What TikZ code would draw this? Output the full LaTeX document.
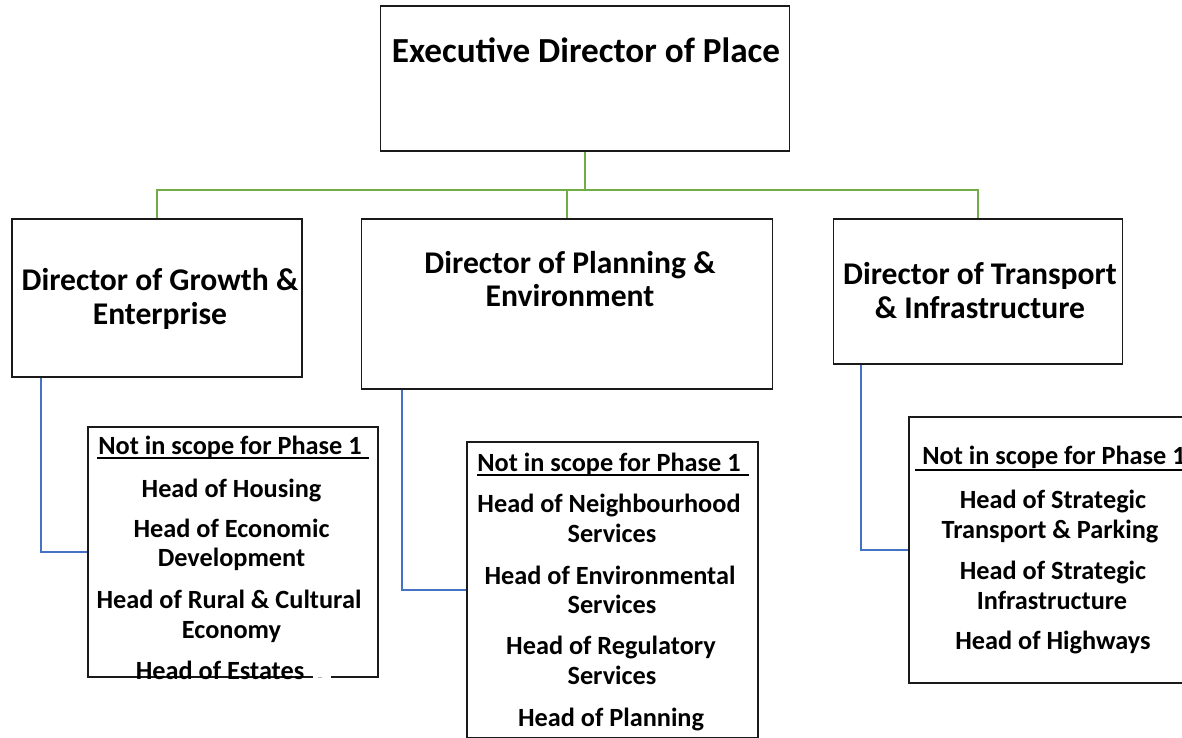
\documentclass[tikz,border=0pt]{standalone}
\usepackage{fontspec}
\setmainfont{Carlito}
\definecolor{lgreen}{HTML}{70AD47}
\definecolor{lblue}{HTML}{4472C4}
\definecolor{boxline}{HTML}{1A1A1A}
\tikzset{
  box/.style={draw=boxline, line width=1.6pt, fill=white, inner sep=0pt},
  gline/.style={draw=lgreen, line width=1.8pt},
  bline/.style={draw=lblue, line width=1.5pt},
  titletxt/.style={anchor=base, inner sep=0pt, font=\fontsize{35.2}{40}\selectfont\bfseries},
  dirtxt/.style={anchor=base, inner sep=0pt, font=\fontsize{31.6}{36}\selectfont\bfseries},
  itemtxt/.style={anchor=base, inner sep=0pt, font=\fontsize{26.3}{30}\selectfont\bfseries},
  uline/.style={draw=black, line width=1.5pt},
}
\begin{document}
\begin{tikzpicture}[x=1pt,y=-1pt]
\useasboundingbox (0,0) rectangle (1182,737);
\clip (0,0) rectangle (1182,737);
% boxes
\node[box, minimum width=409pt, minimum height=145pt] (exec) at (585,78.5) {};
\node[box, minimum width=290pt, minimum height=158pt] (dge) at (157,298) {};
\node[box, minimum width=411pt, minimum height=170pt] (dpe) at (567,304) {};
\node[box, minimum width=289pt, minimum height=145pt] (dte) at (978,291.5) {};
\node[box, minimum width=290pt, minimum height=250pt] (nis1) at (233,552) {};
\node[box, minimum width=291pt, minimum height=296pt] (nis2) at (612.5,590) {};
\node[box, minimum width=290pt, minimum height=266pt] (nis3) at (1054,550) {};
% gap in bottom border of first list box
\fill[white] (313,674) rectangle (331,680);
\draw[gray!60, line width=1pt] (318,677) -- (322,677);
% green connectors
\coordinate (hub) at (585,190);
\draw[gline] (exec.south) -- (hub);
\draw[gline] (dge.north) |- (hub) -| (dte.north);
\draw[gline] (dpe.north) -- (dpe.north |- hub);
% blue connectors
\draw[bline] ([xshift=30pt]dge.south west) |- (nis1.west);
\draw[bline] ([xshift=41.5pt]dpe.south west) |- (nis2.west);
\draw[bline] ([xshift=28.5pt]dte.south west) |- (nis3.west);
% texts
\node[titletxt] (t0) at (586,62) {Executive Director of Place};
\node[dirtxt] (t1a) at (160,290) {Director of Growth \&};
\node[dirtxt] (t1b) at (160,324) {Enterprise};
\node[dirtxt] (t2a) at (570,273) {Director of Planning \&};
\node[dirtxt] (t2b) at (570,306) {Environment};
\node[dirtxt] (t3a) at (980,284) {Director of Transport};
\node[dirtxt] (t3b) at (980,318) {\& Infrastructure};
% list 1
\node[itemtxt] (h1) at (230,454) {Not in scope for Phase 1};
\draw[uline] (97,458) -- (369,458);
\node[itemtxt] (a1) at (231.5,497) {Head of Housing};
\node[itemtxt] (a2) at (231.5,537) {Head of Economic};
\node[itemtxt] (a3) at (231.5,566) {Development};
\node[itemtxt] (a4) at (229,608) {Head of Rural \& Cultural};
\node[itemtxt] (a5) at (231.5,638) {Economy};
\node[itemtxt] (a6) at (220,679) {Head of Estates};
% list 2
\node[itemtxt] (h2) at (609,471) {Not in scope for Phase 1};
\draw[uline] (477,475) -- (749,475);
\node[itemtxt] (b1) at (609,512) {Head of Neighbourhood};
\node[itemtxt] (b2) at (612,542) {Services};
\node[itemtxt] (b3) at (610,584) {Head of Environmental};
\node[itemtxt] (b4) at (612,613) {Services};
\node[itemtxt] (b5) at (611,654) {Head of Regulatory};
\node[itemtxt] (b6) at (612,684) {Services};
\node[itemtxt] (b7) at (611,726) {Head of Planning};
% list 3
\node[itemtxt] (h3) at (1054,464) {Not in scope for Phase 1};
\draw[uline] (915,470) -- (1182,470);
\node[itemtxt] (c1) at (1053,508) {Head of Strategic};
\node[itemtxt] (c2) at (1050,538) {Transport \& Parking};
\node[itemtxt] (c3) at (1053,579) {Head of Strategic};
\node[itemtxt] (c4) at (1052,609) {Infrastructure};
\node[itemtxt] (c5) at (1053,649) {Head of Highways};
\end{tikzpicture}
\end{document}
